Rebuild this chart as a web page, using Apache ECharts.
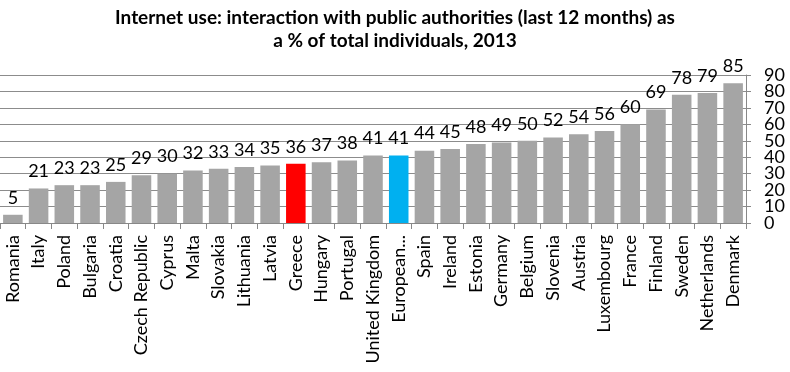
<!DOCTYPE html>
<html><head><meta charset="utf-8">
<script src="https://cdn.jsdelivr.net/npm/echarts@6/dist/echarts.min.js"></script>
<style>html,body{margin:0;padding:0;background:#fff}#c{width:790px;height:372px}</style>
</head><body><div id="c"></div>
<script>
const categories = ['Romania','Italy','Poland','Bulgaria','Croatia','Czech Republic','Cyprus','Malta','Slovakia','Lithuania','Latvia','Greece','Hungary','Portugal','United Kingdom','European...','Spain','Ireland','Estonia','Germany','Belgium','Slovenia','Austria','Luxembourg','France','Finland','Sweden','Netherlands','Denmark'];
const values = [5,21,23,23,25,29,30,32,33,34,35,36,37,38,41,41,44,45,48,49,50,52,54,56,60,69,78,79,85];
const highlight = {'Greece':'#FF0000','European...':'#00B0F0'};
const baseColor = '#A5A5A5';
const yTicks = [0,10,20,30,40,50,60,70,80,90];
const titleText = 'Internet use: interaction with public authorities (last 12 months) as\na % of total individuals, 2013';

const FONT = 'Lato, "Open Sans", sans-serif';
const yMin = yTicks[0], yMax = yTicks[yTicks.length-1];
// labels split over two overlaid axes so ECharts does not drop crowded ones
const labelSet = (parity) => (v) => (yTicks.indexOf(v) % 2 === parity ? String(v) : '');
const yLabelStyle = {margin:18,fontFamily:FONT,fontSize:18,color:'#000',showMinLabel:true,showMaxLabel:true};
const chart = echarts.init(document.getElementById('c'));
chart.setOption({
  animation:false,
  title:{text:titleText,left:'center',top:1,textStyle:{fontFamily:FONT,fontWeight:'bold',fontSize:19,lineHeight:23,color:'#000'}},
  grid:{left:-5,right:44,top:75,bottom:149,containLabel:false},
  xAxis:{type:'category',data:categories,
    axisLine:{lineStyle:{color:'#888',width:1}},
    axisTick:{show:true,length:6,lineStyle:{color:'#888'}},
    axisLabel:{rotate:90,margin:12,fontFamily:FONT,fontSize:18,color:'#000',interval:0}},
  yAxis:[
    {type:'value',position:'right',min:yMin,max:yMax,interval:10,
      axisLine:{show:true,lineStyle:{color:'#888'}},
      axisTick:{show:true,length:5,lineStyle:{color:'#888'}},
      splitLine:{lineStyle:{color:'#8c8c8c',width:1}},
      axisLabel:Object.assign({formatter:labelSet(0)},yLabelStyle)},
    {type:'value',position:'right',min:yMin,max:yMax,interval:10,
      axisLine:{show:false},
      axisTick:{show:false},
      splitLine:{show:false},
      axisLabel:Object.assign({formatter:labelSet(1)},yLabelStyle)}
  ],
  series:[{type:'bar',barCategoryGap:'24%',yAxisIndex:0,
    data:values.map((v,i)=>({value:v,itemStyle:{color:highlight[categories[i]]||baseColor}})),
    label:{show:true,position:'top',distance:8,fontFamily:FONT,fontSize:18,color:'#000'}}]
});
</script></body></html>
